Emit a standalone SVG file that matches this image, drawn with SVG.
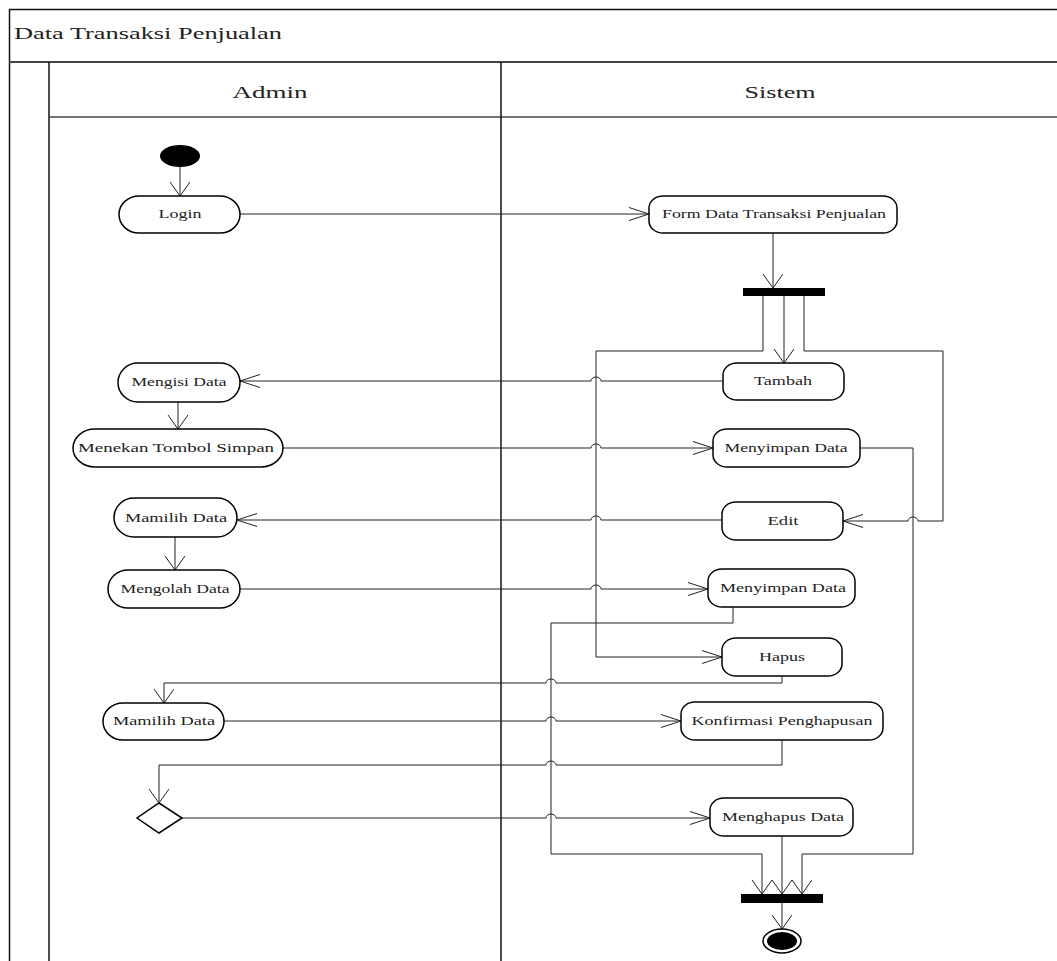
<svg xmlns="http://www.w3.org/2000/svg" width="1057" height="961" viewBox="0 0 1057 961">
<style>
.frame{fill:none;stroke:#111;stroke-width:1.5}
.act{fill:#fff;stroke:#000;stroke-width:1.5}
.lbl{font-family:"Liberation Serif","Times New Roman",serif;font-size:12px;fill:#222;text-anchor:middle}
.hdr{font-family:"Liberation Serif","Times New Roman",serif;font-size:17px;fill:#222;text-anchor:middle}
.ttl{font-family:"Liberation Serif","Times New Roman",serif;font-size:16px;fill:#222}
.con{fill:none;stroke:#222;stroke-width:1}
</style>
<defs>
<marker id="ah" markerUnits="userSpaceOnUse" markerWidth="22" markerHeight="16" refX="20" refY="7" orient="auto">
<path d="M0,0.5 L20,7 L0,13.5" fill="none" stroke="#222" stroke-width="1"/>
</marker>
<marker id="av" markerUnits="userSpaceOnUse" markerWidth="16" markerHeight="22" refX="14" refY="10" orient="auto">
<path d="M0,0 L14,10 L0,20" fill="none" stroke="#222" stroke-width="1"/>
</marker>
</defs>
<rect width="1057" height="961" fill="#fff"/>
<g id="frame">
<line class="frame" x1="9" y1="9.5" x2="1057" y2="9.5"/>
<line class="frame" x1="9.5" y1="9" x2="9.5" y2="961"/>
<line x1="9" y1="62" x2="1057" y2="62" stroke="#444" stroke-width="2"/>
<line class="frame" x1="49" y1="62" x2="49" y2="961"/>
<line x1="49" y1="117" x2="1057" y2="117" stroke="#444" stroke-width="1.5"/>
<line class="frame" x1="501" y1="62" x2="501" y2="961"/>
<text class="ttl" x="14" y="39" textLength="268" lengthAdjust="spacingAndGlyphs">Data Transaksi Penjualan</text>
<text class="hdr" x="270" y="98" textLength="75" lengthAdjust="spacingAndGlyphs">Admin</text>
<text class="hdr" x="780" y="98" textLength="71" lengthAdjust="spacingAndGlyphs">Sistem</text>
</g>
<g id="connectors">
<path class="con" d="M180 167 V196" marker-end="url(#av)"/>
<path class="con" d="M240 214 H649" marker-end="url(#ah)"/>
<path class="con" d="M773 233 V288" marker-end="url(#av)"/>
<path class="con" d="M784 296 V363" marker-end="url(#av)"/>
<path class="con" d="M763 296 V351 H596 V657 H722" marker-end="url(#ah)"/>
<path class="con" d="M804 296 V351 H943 V521 H918 A5 4 0 0 0 908 521 H843" marker-end="url(#ah)"/>
<path class="con" d="M723 381 H601 A5 4 0 0 0 591 381 H240" marker-end="url(#ah)"/>
<path class="con" d="M178 402 V429" marker-end="url(#av)"/>
<path class="con" d="M283 448 H591 A5 4 0 0 1 601 448 H713" marker-end="url(#ah)"/>
<path class="con" d="M860 448 H913 V854 H802 V894" marker-end="url(#av)"/>
<path class="con" d="M722 520 H601 A5 4 0 0 0 591 520 H237" marker-end="url(#ah)"/>
<path class="con" d="M175 537 V570" marker-end="url(#av)"/>
<path class="con" d="M240 589 H591 A5 4 0 0 1 601 589 H708" marker-end="url(#ah)"/>
<path class="con" d="M733 607 V623 H551 V854 H762 V894" marker-end="url(#av)"/>
<path class="con" d="M782 676 V683 H556 A5 4 0 0 0 546 683 H164 V703" marker-end="url(#av)"/>
<path class="con" d="M224 721 H546 A5 4 0 0 1 556 721 H681" marker-end="url(#ah)"/>
<path class="con" d="M782 740 V765 H556 A5 4 0 0 0 546 765 H159 V803" marker-end="url(#av)"/>
<path class="con" d="M182 818 H546 A5 4 0 0 1 556 818 H710" marker-end="url(#ah)"/>
<path class="con" d="M782 836 V894" marker-end="url(#av)"/>
<path class="con" d="M782 903 V929" marker-end="url(#av)"/>
</g>
<g id="start"><ellipse cx="180" cy="156" rx="20" ry="11" fill="#000"/></g>
<g id="login"><rect class="act" x="119" y="196" width="121" height="37" rx="20" ry="18.5"/><text class="lbl" x="180" y="218" textLength="43" lengthAdjust="spacingAndGlyphs">Login</text></g>
<g id="form"><rect class="act" x="649" y="196" width="248" height="37" rx="14" ry="12"/><text class="lbl" x="774" y="218" textLength="224" lengthAdjust="spacingAndGlyphs">Form Data Transaksi Penjualan</text></g>
<g id="fork"><rect x="743" y="288" width="82" height="8" fill="#000"/></g>
<g id="tambah"><rect class="act" x="723" y="363" width="121" height="37" rx="14" ry="12"/><text class="lbl" x="783" y="385" textLength="58" lengthAdjust="spacingAndGlyphs">Tambah</text></g>
<g id="mengisi"><rect class="act" x="118" y="363" width="122" height="39" rx="20" ry="19.5"/><text class="lbl" x="179" y="386" textLength="95" lengthAdjust="spacingAndGlyphs">Mengisi Data</text></g>
<g id="menekan"><rect class="act" x="73" y="429" width="210" height="38" rx="22" ry="19"/><text class="lbl" x="176" y="452" textLength="196" lengthAdjust="spacingAndGlyphs">Menekan Tombol Simpan</text></g>
<g id="simpan1"><rect class="act" x="713" y="429" width="147" height="38" rx="14" ry="12"/><text class="lbl" x="786" y="452" textLength="123" lengthAdjust="spacingAndGlyphs">Menyimpan Data</text></g>
<g id="edit"><rect class="act" x="722" y="502" width="121" height="38" rx="14" ry="12"/><text class="lbl" x="783" y="525" textLength="31" lengthAdjust="spacingAndGlyphs">Edit</text></g>
<g id="memilih1"><rect class="act" x="114" y="498" width="123" height="39" rx="20" ry="19.5"/><text class="lbl" x="176" y="522" textLength="102" lengthAdjust="spacingAndGlyphs">Mamilih Data</text></g>
<g id="mengolah"><rect class="act" x="108" y="570" width="132" height="38" rx="20" ry="19"/><text class="lbl" x="175" y="593" textLength="109" lengthAdjust="spacingAndGlyphs">Mengolah Data</text></g>
<g id="simpan2"><rect class="act" x="708" y="569" width="147" height="38" rx="14" ry="12"/><text class="lbl" x="783" y="592" textLength="126" lengthAdjust="spacingAndGlyphs">Menyimpan Data</text></g>
<g id="hapus"><rect class="act" x="722" y="638" width="120" height="38" rx="14" ry="12"/><text class="lbl" x="782" y="661" textLength="46" lengthAdjust="spacingAndGlyphs">Hapus</text></g>
<g id="memilih2"><rect class="act" x="103" y="703" width="121" height="37" rx="20" ry="18.5"/><text class="lbl" x="164" y="725" textLength="102" lengthAdjust="spacingAndGlyphs">Mamilih Data</text></g>
<g id="konfirmasi"><rect class="act" x="681" y="702" width="202" height="38" rx="14" ry="12"/><text class="lbl" x="782" y="725" textLength="181" lengthAdjust="spacingAndGlyphs">Konfirmasi Penghapusan</text></g>
<g id="decision"><polygon class="act" points="159,803 182,818 159,833 137,818"/></g>
<g id="menghapus"><rect class="act" x="710" y="798" width="143" height="38" rx="14" ry="12"/><text class="lbl" x="783" y="821" textLength="122" lengthAdjust="spacingAndGlyphs">Menghapus Data</text></g>
<g id="join"><rect x="741" y="894" width="82" height="9" fill="#000"/></g>
<g id="end"><ellipse cx="782" cy="941" rx="19" ry="12" fill="#fff" stroke="#000" stroke-width="1.5"/><ellipse cx="782" cy="941" rx="15" ry="9" fill="#000"/></g>
</svg>
